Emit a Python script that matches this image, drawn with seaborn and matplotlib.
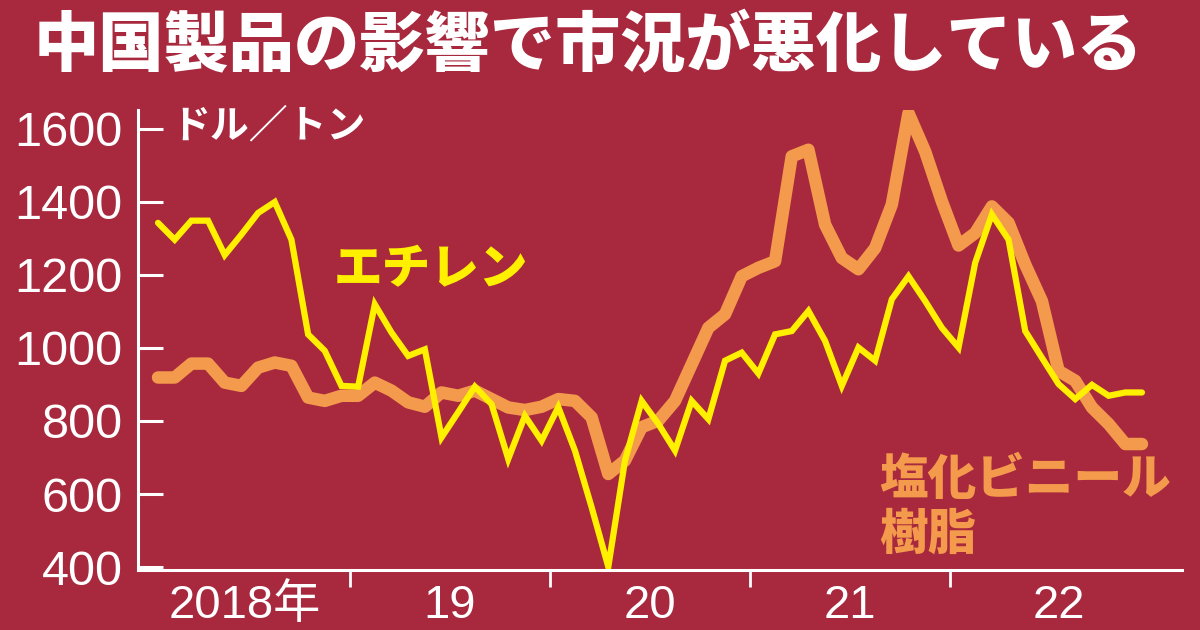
import matplotlib
matplotlib.use("Agg")
import matplotlib.pyplot as plt
import seaborn as sns
import pandas as pd
import numpy as np

# 月次データ（2018年1月〜2022年12月）、ドル／トン
ethylene = [1342, 1296, 1348, 1348, 1254, 1310, 1369, 1399, 1296, 1037, 992, 896,
            894, 1119, 1042, 978, 996, 755, 824, 894, 846, 696, 814, 746,
            838, 719, 564, 401, 692, 855, 792, 719, 855, 805, 965, 987,
            930, 1037, 1046, 1101, 1019, 896, 1001, 965, 1133, 1196, 1128, 1055,
            1001, 1233, 1365, 1296, 1046, 973, 901, 860, 899, 869, 878, 878]
pvc = [919, 919, 957, 957, 905, 896, 946, 960, 951, 864, 855, 869,
       869, 905, 883, 851, 839, 878, 869, 883, 860, 837, 830, 839,
       860, 855, 810, 655, 692, 783, 801, 855, 955, 1055, 1092, 1196,
       1219, 1237, 1524, 1542, 1337, 1246, 1215, 1273, 1392, 1642, 1537, 1401,
       1280, 1314, 1387, 1342, 1228, 1128, 937, 910, 837, 792, 737, 737]
year_labels = ["2018年", "19", "20", "21", "22"]
y_ticks = [400, 600, 800, 1000, 1200, 1400, 1600]

BG = "#A8283D"
YELLOW = "#FFF000"
ORANGE = "#F39A4C"

df = pd.DataFrame({"month": np.arange(len(ethylene)), "ethylene": ethylene, "pvc": pvc})

sns.set_style("ticks", {"axes.facecolor": BG, "figure.facecolor": BG})
plt.rcParams["font.family"] = ["Noto Sans CJK JP", "DejaVu Sans"]

fig = plt.figure(figsize=(12, 6.3), dpi=100)
ax = fig.add_axes([0.115, 0.095, 0.870, 0.730])

sns.lineplot(data=df, x="month", y="pvc", color=ORANGE, linewidth=9,
             solid_capstyle="round", solid_joinstyle="round", ax=ax)
sns.lineplot(data=df, x="month", y="ethylene", color=YELLOW, linewidth=4.5,
             solid_capstyle="round", solid_joinstyle="miter", ax=ax)

ax.set_xlim(-1.2, 61.4)
ax.set_ylim(392, 1650)
ax.set_xlabel("")
ax.set_ylabel("")

for s in ["top", "right"]:
    ax.spines[s].set_visible(False)
for s in ["left", "bottom"]:
    ax.spines[s].set_color("white")
    ax.spines[s].set_linewidth(2.2)

ax.set_yticks(y_ticks)
ax.set_yticklabels([str(v) for v in y_ticks], family=["Liberation Sans", "DejaVu Sans"])
ax.tick_params(axis="y", direction="in", length=18, width=2.2, color="white",
               labelcolor="white", labelsize=35, pad=11)

# 年の区切りと年ラベル
year_bounds = [11.5, 23.5, 35.5, 47.5]
ax.set_xticks(year_bounds)
ax.set_xticklabels([])
ax.tick_params(axis="x", which="major", direction="out", length=12, width=2, color="white")
label_pos = [5.2, 17.5, 29.5, 41.5, 54.0]
ax.set_xticks(label_pos, minor=True)
ax.set_xticklabels(year_labels, minor=True, family=["Liberation Sans", "Noto Sans CJK JP"])
ax.tick_params(axis="x", which="minor", length=0, labelcolor="white", labelsize=34, pad=10)

# タイトル・注記
fig.text(0.028, 0.925, "中国製品の影響で市況が悪化している", color="white",
         fontsize=47, fontweight="heavy", va="center", ha="left")
fig.text(0.143, 0.800, "ドル／トン", color="white", fontsize=28,
         fontweight="bold", va="center", ha="left")
fig.text(0.278, 0.572, "エチレン", color=YELLOW, fontsize=35,
         fontweight="heavy", va="center", ha="left")
fig.text(0.733, 0.195, "塩化ビニール\n樹脂", color=ORANGE, fontsize=35,
         fontweight="heavy", va="center", ha="left", linespacing=1.15)

fig.savefig("out.png", dpi=100, facecolor=BG)
